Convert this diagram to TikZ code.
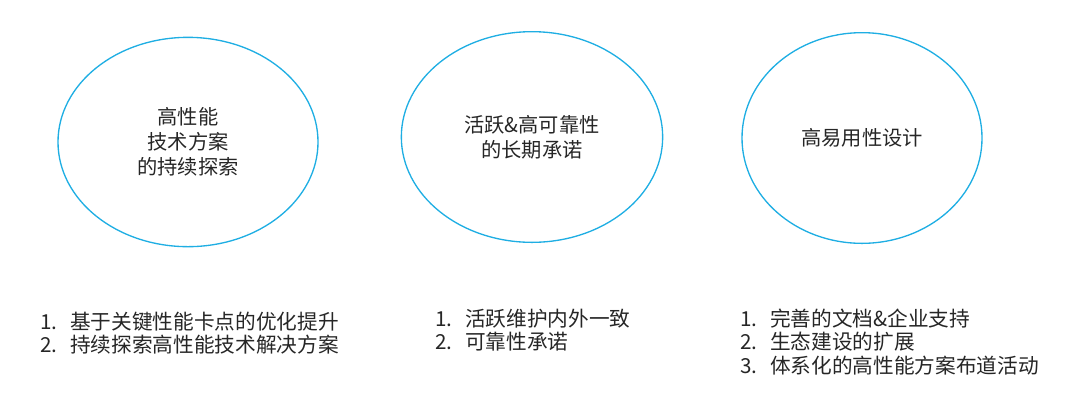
\documentclass[tikz,border=0pt]{standalone}
\usepackage{fontspec}
\newfontfamily\cjk{Noto Sans CJK SC}
\usepackage{xcolor}
\usetikzlibrary{positioning,shapes.geometric}
\definecolor{ringblue}{HTML}{1FAEE3}
\newcommand{\itemno}[1]{\makebox[22.5pt][l]{#1}}

\begin{document}
\begin{tikzpicture}[
    x=0.75pt, y=-0.75pt,
    bubble/.style={draw=ringblue, line width=1pt, ellipse, inner sep=0pt, align=center,
        text=black!85, font=\cjk\fontsize{15.2}{18.75}\selectfont},
    itemlist/.style={anchor=west, inner sep=0pt, align=left,
        text=black!85, font=\cjk\fontsize{15.5}{17.4}\selectfont}
]
\useasboundingbox (0,0) rectangle (1080,401);
\node[bubble, minimum width=195pt, minimum height=157pt] (perf) at (188,142) {高性能\\技术方案\\的持续探索};
\node[bubble, minimum width=196pt, minimum height=158pt] (reli) at (532,137) {活跃\&高可靠性\\的长期承诺};
\node[bubble, minimum width=180pt, minimum height=158pt] (usab) at (862,138) {高易用性设计};
\node[itemlist] (perflist) at (40,333) {\itemno{1.}基于关键性能卡点的优化提升\\\itemno{2.}持续探索高性能技术解决方案};
\node[itemlist] (relilist) at (435,330) {\itemno{1.}活跃维护内外一致\\\itemno{2.}可靠性承诺};
\node[itemlist] (usablist) at (740,342) {\itemno{1.}完善的文档\&企业支持\\\itemno{2.}生态建设的扩展\\\itemno{3.}体系化的高性能方案布道活动};
\end{tikzpicture}
\end{document}
